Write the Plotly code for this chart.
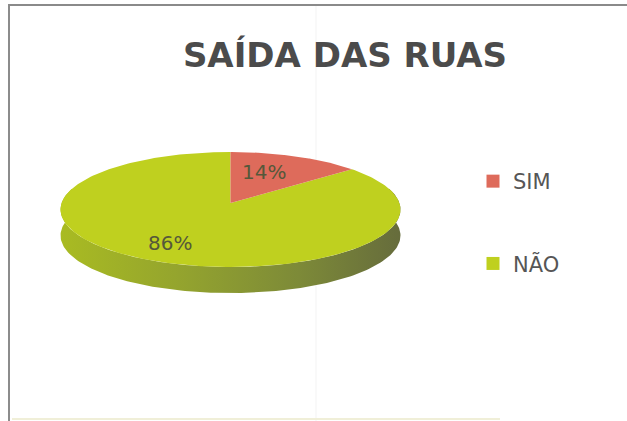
import numpy as np
import plotly.graph_objects as go

categories = ["SIM", "NÃO"]
shares = [14, 86]
title_text = "SAÍDA DAS RUAS"
RED, GREEN = "#de6b5b", "#bfd01f"
TXT = "#565656"

# perspective disc geometry, in page pixels
CX, CY, A, B, P, DEPTH = 230.5, 203.0, 168.9, 56.8, 0.113, 26.0


def project(theta_deg, r=1.0, dy=0.0):
    t = np.radians(theta_deg)
    X, Y = r * np.sin(t), r * np.cos(t)
    d = 1 + P * Y
    return CX + A * X / d, CY - B * Y / d + dy


fractions = np.array(shares) / sum(shares)
end_sim = 360 * fractions[0]

fig = go.Figure()

# side wall
t_front = np.linspace(75, 285, 160)
xf, yf = project(t_front, dy=DEPTH)
xt, yt = project(t_front[::-1])
fig.add_trace(go.Scatter(
    x=np.r_[xf, xt], y=np.r_[yf, yt], mode="lines", fill="toself",
    line=dict(width=0, color="#8a9a28"), showlegend=False, hoverinfo="skip",
    fillgradient=dict(type="horizontal", colorscale=[
        [0, "#a9bb22"], [0.35, "#94a42e"], [0.7, "#7d8a38"], [1, "#666c3c"]]),
))

# top faces: one wedge per category
starts = [0, end_sim]
ends = [end_sim, 360]
colors = [RED, GREEN]
order = [1, 0]
for i in order:
    th = np.linspace(starts[i], ends[i], 240)
    x, y = project(th)
    cx0, cy0 = project(0, r=0)
    fig.add_trace(go.Scatter(
        x=np.r_[cx0, x, cx0], y=np.r_[cy0, y, cy0], mode="lines", fill="toself",
        fillcolor=colors[i], line=dict(width=0, color=colors[i]),
        showlegend=False, hoverinfo="skip",
    ))

# legend entries
for i in range(2):
    fig.add_trace(go.Scatter(
        x=[None], y=[None], mode="markers", name=categories[i],
        legendgroup=categories[i],
        marker=dict(symbol="square", size=13, color=colors[i]),
    ))

shapes = [
    dict(type="line", x0=9, x1=9, y0=4, y1=421, line=dict(color="#8c8c8c", width=2)),
    dict(type="line", x0=9, x1=627, y0=5, y1=5, line=dict(color="#8a8a8a", width=2)),
    dict(type="line", x0=12, x1=500, y0=419, y1=419, line=dict(color="#f0efd8", width=2)),
    dict(type="line", x0=316, x1=316, y0=6, y1=421, layer="below",
         line=dict(color="#f3f3f3", width=1)),
]

annotations = [
    dict(x=263.5, y=172, text=f"{shares[0]}%"),
    dict(x=170, y=243, text=f"{shares[1]}%"),
]
for a in annotations:
    a.update(xref="x", yref="y", showarrow=False,
             font=dict(family="DejaVu Sans", size=20, color="#55583a"))

fig.update_layout(
    width=627, height=421, autosize=False,
    margin=dict(l=0, r=0, t=0, b=0),
    paper_bgcolor="#ffffff", plot_bgcolor="#ffffff",
    xaxis=dict(range=[0, 627], visible=False, fixedrange=True),
    yaxis=dict(range=[421, 0], visible=False, fixedrange=True),
    title=dict(text=f"<b>{title_text}</b>", x=345 / 627, xanchor="center",
               y=1 - 55 / 421, yanchor="middle",
               font=dict(family="DejaVu Sans", size=34, color="#4b4b4b")),
    legend=dict(x=473 / 627, xanchor="left", y=1 - 161 / 421, yanchor="top",
                tracegroupgap=52, bgcolor="rgba(0,0,0,0)",
                font=dict(family="DejaVu Sans", size=21, color=TXT)),
    shapes=shapes, annotations=annotations,
)

fig.write_html("out.html", config={"displayModeBar": False},
               post_script="document.body.style.margin='0';")
